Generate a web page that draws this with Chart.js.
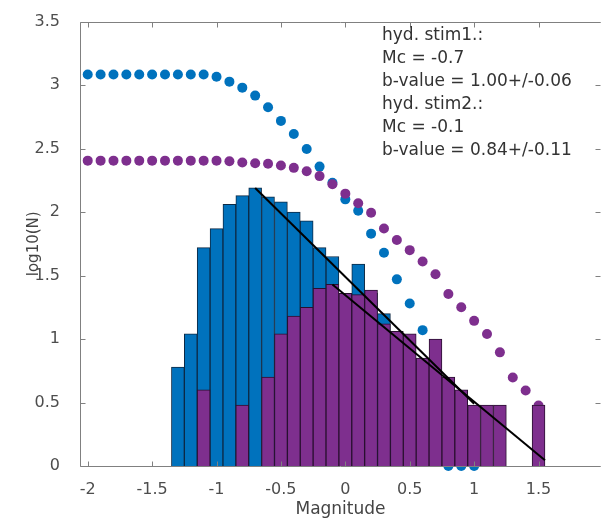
<!DOCTYPE html>
<html lang="en">
<head>
    <meta charset="UTF-8">
    <title>Frequency-magnitude distribution</title>
    <script src="https://cdn.jsdelivr.net/npm/chart.js"></script>
    <style>
        html, body {
            margin: 0;
            padding: 0;
            background: #fff;
            overflow: hidden;
        }
        .wrapper {
            width: 606px;
            height: 521px;
            position: relative;
        }
    </style>
</head>
<body>
    <div class="wrapper">
        <canvas id="fmdChart"></canvas>
    </div>

    <script>
        // histogram bins (0.1 magnitude wide), log10 of event count per bin
        const binCenters = [-1.3, -1.2, -1.1, -1.0, -0.9, -0.8, -0.7, -0.6, -0.5, -0.4, -0.3, -0.2, -0.1, 0.0,
                            0.1, 0.2, 0.3, 0.4, 0.5, 0.6, 0.7, 0.8, 0.9, 1.0, 1.1, 1.2, 1.3, 1.4, 1.5];
        const histStim1 = [0.78, 1.04, 1.72, 1.87, 2.06, 2.13, 2.19, 2.12, 2.08, 2.00, 1.93, 1.72, 1.65, 1.34,
                           1.59, 1.36, 1.20, 1.00, 0.85, 0.78, 0.70, null, null, null, null, null, null, null, null];
        const histStim2 = [null, null, 0.60, null, null, 0.48, null, 0.70, 1.04, 1.18, 1.25, 1.40, 1.43, 1.36,
                           1.35, 1.385, 1.12, 1.06, 1.04, 0.85, 1.00, 0.70, 0.60, 0.48, 0.48, 0.48, null, null, 0.48];

        // cumulative counts log10(N >= M)
        const cumMags1 = [-2.0, -1.9, -1.8, -1.7, -1.6, -1.5, -1.4, -1.3, -1.2, -1.1, -1.0, -0.9, -0.8, -0.7, -0.6,
                          -0.5, -0.4, -0.3, -0.2, -0.1, 0.0, 0.1, 0.2, 0.3, 0.4, 0.5, 0.6, 0.7, 0.8, 0.9, 1.0];
        const cumStim1 = [3.083, 3.083, 3.083, 3.083, 3.083, 3.083, 3.083, 3.083, 3.083, 3.083, 3.066, 3.027, 2.98, 2.917, 2.826,
                          2.718, 2.615, 2.497, 2.358, 2.23, 2.10, 2.01, 1.83, 1.68, 1.47, 1.28, 1.07, 0.78, 0, 0, 0];
        const cumMags2 = [-2.0, -1.9, -1.8, -1.7, -1.6, -1.5, -1.4, -1.3, -1.2, -1.1, -1.0, -0.9, -0.8, -0.7, -0.6,
                          -0.5, -0.4, -0.3, -0.2, -0.1, 0.0, 0.1, 0.2, 0.3, 0.4, 0.5, 0.6, 0.7, 0.8, 0.9, 1.0,
                          1.1, 1.2, 1.3, 1.4, 1.5];
        const cumStim2 = [2.405, 2.405, 2.405, 2.405, 2.405, 2.405, 2.405, 2.405, 2.405, 2.405, 2.405, 2.40, 2.39, 2.385, 2.38,
                          2.366, 2.348, 2.322, 2.283, 2.219, 2.145, 2.07, 1.995, 1.871, 1.78, 1.70, 1.61, 1.51, 1.354, 1.25, 1.143,
                          1.04, 0.895, 0.697, 0.594, 0.477];

        // fitted lines from Mc
        const fit1X = [-0.7, 1.0];
        const fit1Y = [2.19, 0.49];
        const fit2X = [-0.1, 1.55];
        const fit2Y = [1.43, 0.045];

        const xTicks = [-2, -1.5, -1, -0.5, 0, 0.5, 1, 1.5];
        const yTicks = [0, 0.5, 1, 1.5, 2, 2.5, 3, 3.5];

        const noteLines = ['hyd. stim1.:', 'Mc = -0.7', 'b-value = 1.00+/-0.06',
                           'hyd. stim2.:', 'Mc = -0.1', 'b-value = 0.84+/-0.11'];

        const BLUE = '#0072BD';
        const PURPLE = '#7E2F8E';

        const toPoints = (xs, ys) => xs.map((x, i) => ({ x: x, y: ys[i] }));

        // box, inward ticks and the text block
        const axesFrame = {
            id: 'axesFrame',
            afterDraw(chart) {
                const { ctx, chartArea: a, scales } = chart;
                const xs = scales.x, ys = scales.y;
                const L = Math.round(a.left) + 0.5, R = Math.round(a.right) - 0.5;
                const T = Math.round(a.top) + 0.5, B = Math.round(a.bottom) + 0.5;
                ctx.save();
                ctx.strokeStyle = '#808080';
                ctx.lineWidth = 1;
                ctx.beginPath();
                ctx.moveTo(R, T); ctx.lineTo(L, T); ctx.lineTo(L, B); ctx.lineTo(R, B);
                xTicks.forEach(v => {
                    const px = Math.round(xs.getPixelForValue(v)) + 0.5;
                    ctx.moveTo(px, B); ctx.lineTo(px, B - 5);
                    ctx.moveTo(px, T); ctx.lineTo(px, T + 5);
                });
                yTicks.forEach(v => {
                    const py = Math.round(ys.getPixelForValue(v)) + 0.5;
                    ctx.moveTo(L, py); ctx.lineTo(L + 5, py);
                    ctx.moveTo(R, py); ctx.lineTo(R - 5, py);
                });
                ctx.stroke();

                ctx.fillStyle = '#333';
                ctx.font = '17px "DejaVu Sans"';
                ctx.textBaseline = 'middle';
                const tx = xs.getPixelForValue(0.285);
                const ty = ys.getPixelForValue(3.39);
                noteLines.forEach((s, i) => ctx.fillText(s, tx, ty + i * 23));
                ctx.restore();
            }
        };

        Chart.defaults.font.family = '"DejaVu Sans", sans-serif';

        const ctx = document.getElementById('fmdChart').getContext('2d');
        const fmdChart = new Chart(ctx, {
            type: 'bar',
            data: {
                datasets: [
                    {
                        type: 'line',
                        data: toPoints(fit1X, fit1Y),
                        borderColor: '#000',
                        borderWidth: 2,
                        pointRadius: 0,
                        order: 0
                    },
                    {
                        type: 'line',
                        data: toPoints(fit2X, fit2Y),
                        borderColor: '#000',
                        borderWidth: 2,
                        pointRadius: 0,
                        order: 0
                    },
                    {
                        data: toPoints(binCenters, histStim2),
                        backgroundColor: PURPLE,
                        borderColor: '#2a1030',
                        borderWidth: 1,
                        grouped: false,
                        barPercentage: 1,
                        categoryPercentage: 1,
                        order: 2
                    },
                    {
                        data: toPoints(binCenters, histStim1),
                        backgroundColor: BLUE,
                        borderColor: '#0d2a45',
                        borderWidth: 1,
                        grouped: false,
                        barPercentage: 1,
                        categoryPercentage: 1,
                        order: 3
                    },
                    {
                        type: 'line',
                        data: toPoints(cumMags2, cumStim2),
                        showLine: false,
                        pointRadius: 5,
                        pointBorderWidth: 0,
                        pointBackgroundColor: PURPLE,
                        clip: false,
                        order: 5
                    },
                    {
                        type: 'line',
                        data: toPoints(cumMags1, cumStim1),
                        showLine: false,
                        pointRadius: 5,
                        pointBorderWidth: 0,
                        pointBackgroundColor: BLUE,
                        clip: false,
                        order: 6
                    }
                ]
            },
            options: {
                responsive: true,
                maintainAspectRatio: false,
                animation: false,
                layout: {
                    padding: { top: 15, right: 0, bottom: 0, left: 0 }
                },
                plugins: {
                    legend: { display: false },
                    tooltip: { enabled: false }
                },
                scales: {
                    x: {
                        type: 'linear',
                        min: -2.06,
                        max: 1.985,
                        offset: false,
                        grid: { display: false },
                        border: { display: false },
                        afterBuildTicks: s => { s.ticks = xTicks.map(v => ({ value: v })); },
                        afterFit: s => { s.height = 55; },
                        ticks: {
                            color: '#4d4d4d',
                            font: { size: 16 },
                            padding: 6,
                            maxRotation: 0,
                            callback: v => String(v)
                        },
                        title: {
                            display: true,
                            text: 'Magnitude',
                            color: '#444',
                            font: { size: 17 },
                            padding: { top: 0, bottom: 1 }
                        }
                    },
                    y: {
                        type: 'linear',
                        min: 0,
                        max: 3.5,
                        grid: { display: false },
                        border: { display: false },
                        afterBuildTicks: s => { s.ticks = yTicks.map(v => ({ value: v })); },
                        afterFit: s => { s.width = 80; },
                        ticks: {
                            color: '#4d4d4d',
                            font: { size: 16 },
                            padding: 12,
                            callback: v => String(v)
                        },
                        title: {
                            display: true,
                            text: 'log10(N)',
                            color: '#444',
                            font: { size: 15 },
                            padding: { top: 25, bottom: 0 }
                        }
                    }
                }
            },
            plugins: [axesFrame]
        });
    </script>
</body>
</html>
